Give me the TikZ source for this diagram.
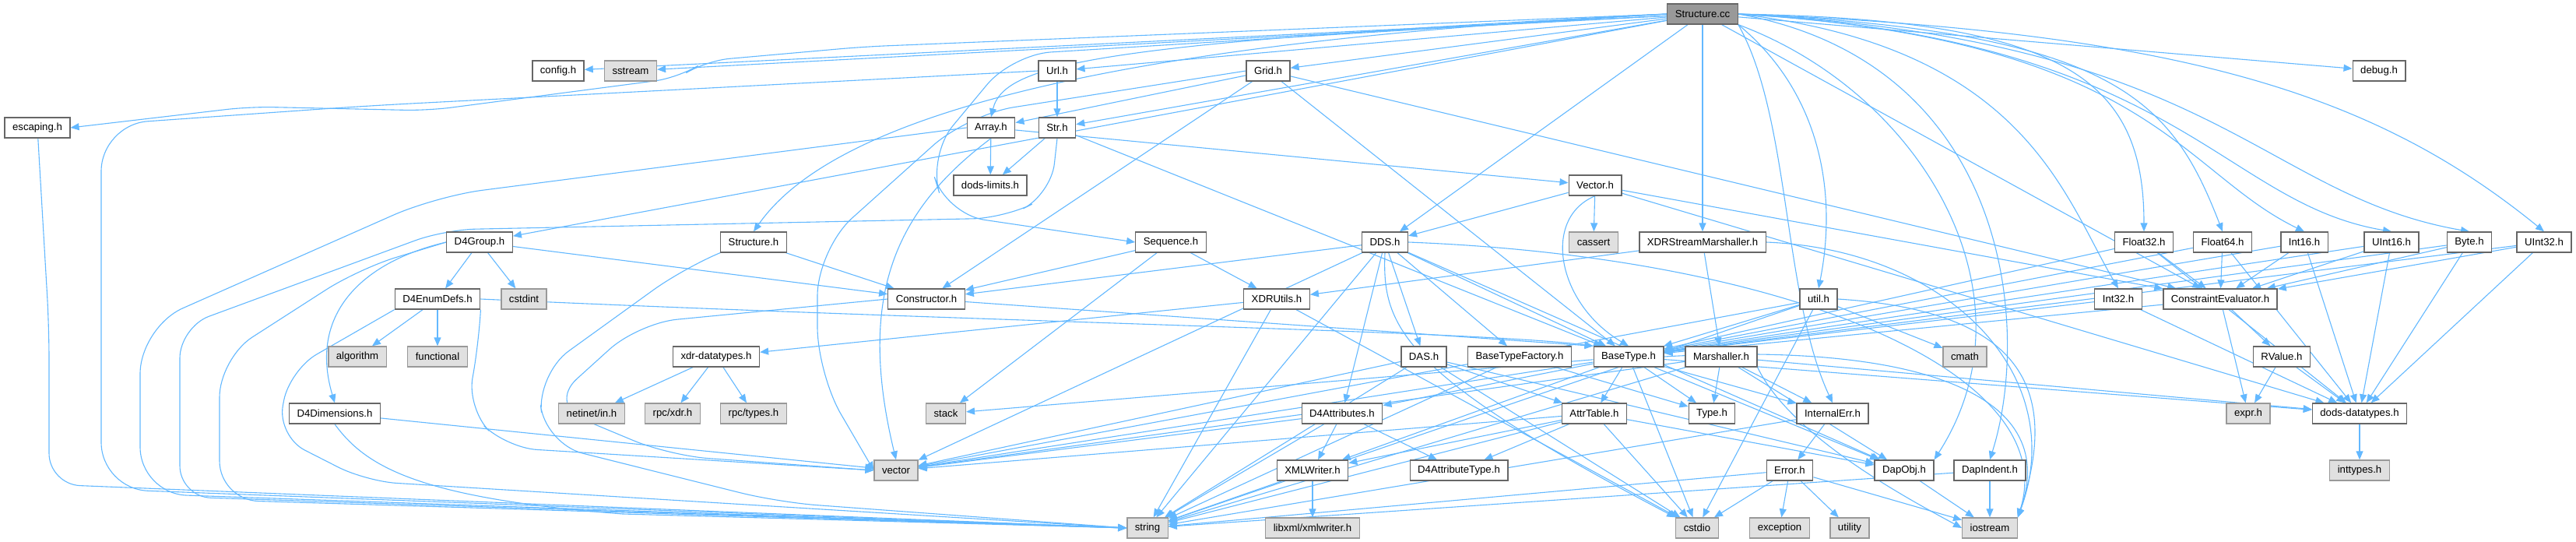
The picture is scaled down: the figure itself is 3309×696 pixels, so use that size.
\documentclass[tikz,border=0pt]{standalone}
\usepackage{fontspec}
\setmainfont{Liberation Sans}
\usetikzlibrary{arrows.meta,backgrounds}

\definecolor{incblue}{HTML}{63B8FF}
\definecolor{boxgray}{HTML}{666666}
\definecolor{sysgray}{HTML}{999999}
\definecolor{sysfill}{HTML}{E0E0E0}

\tikzset{
	hfile/.style={draw=boxgray, fill=white, line width=1.3pt, minimum height=26pt,
		inner xsep=10pt, inner ysep=0pt, font=\fontsize{13.2}{15}\selectfont},
	sysfile/.style={hfile, draw=sysgray, fill=sysfill},
	rootfile/.style={hfile, fill=sysgray},
	inc/.style={draw=incblue, line width=1.1pt, -{Triangle[length=11pt,width=9pt]}},
}

\begin{document}
\begin{tikzpicture}[x=1pt,y=-1pt]
	\useasboundingbox (0,0) rectangle (3309,696);

	% the file itself
	\node[rootfile] (sc) at (2187,18) {Structure.cc};

	% first level
	\node[hfile] (config) at (717,91) {config.h};
	\node[sysfile] (sstream) at (810,91) {sstream};
	\node[hfile] (url) at (1358,91) {Url.h};
	\node[hfile] (grid) at (1629,91) {Grid.h};
	\node[hfile] (debug) at (3056,91) {debug.h};

	\node[hfile] (escaping) at (48,164) {escaping.h};
	\node[hfile] (array) at (1273,164) {Array.h};
	\node[hfile] (str) at (1358,164) {Str.h};

	\node[hfile] (limits) at (1272,238) {dods-limits.h};
	\node[hfile] (vech) at (2049,238) {Vector.h};

	% middle rows
	\node[hfile] (d4group) at (616,311) {D4Group.h};
	\node[hfile] (structh) at (968,311) {Structure.h};
	\node[hfile] (sequence) at (1504,311) {Sequence.h};
	\node[hfile] (dds) at (1779,311) {DDS.h};
	\node[sysfile] (cassert) at (2047,311) {cassert};
	\node[hfile] (xdrsm) at (2187,311) {XDRStreamMarshaller.h};
	\node[hfile] (float32) at (2754,311) {Float32.h};
	\node[hfile] (float64) at (2855,311) {Float64.h};
	\node[hfile] (int16) at (2960,311) {Int16.h};
	\node[hfile] (uint16) at (3072,311) {UInt16.h};
	\node[hfile] (byte) at (3172,311) {Byte.h};
	\node[hfile] (uint32) at (3268,311) {UInt32.h};

	\node[hfile] (enumdefs) at (562,384) {D4EnumDefs.h};
	\node[sysfile] (cstdint) at (673,384) {cstdint};
	\node[hfile] (constructor) at (1190,384) {Constructor.h};
	\node[hfile] (xdrutils) at (1640,384) {XDRUtils.h};
	\node[hfile] (util) at (2336,384) {util.h};
	\node[hfile] (int32) at (2721,384) {Int32.h};
	\node[hfile] (ce) at (2852,384) {ConstraintEvaluator.h};

	\node[sysfile] (algorithm) at (459,458) {algorithm};
	\node[sysfile] (functional) at (562,458) {functional};
	\node[hfile] (xdrdt) at (920,458) {xdr-datatypes.h};
	\node[hfile] (das) at (1829,458) {DAS.h};
	\node[hfile] (btf) at (1952,458) {BaseTypeFactory.h};
	\node[hfile] (basetype) at (2092,458) {BaseType.h};
	\node[hfile] (marshaller) at (2211,458) {Marshaller.h};
	\node[sysfile] (cmath) at (2524,458) {cmath};
	\node[hfile] (rvalue) at (2931,458) {RValue.h};

	\node[hfile] (d4dims) at (430,531) {D4Dimensions.h};
	\node[sysfile] (netinet) at (760,531) {netinet/in.h};
	\node[sysfile] (rpcxdr) at (864,531) {rpc/xdr.h};
	\node[sysfile] (rpctypes) at (968,531) {rpc/types.h};
	\node[sysfile] (stack) at (1215,531) {stack};
	\node[hfile] (d4attrs) at (1724,531) {D4Attributes.h};
	\node[hfile] (attrtable) at (2048,531) {AttrTable.h};
	\node[hfile] (type) at (2199,531) {Type.h};
	\node[hfile] (internalerr) at (2354,531) {InternalErr.h};
	\node[sysfile] (expr) at (2888,531) {expr.h};
	\node[hfile] (dodsdt) at (3031,531) {dods-datatypes.h};

	% bottom rows
	\node[sysfile] (vector) at (1151,604) {vector};
	\node[hfile] (xmlwriter) at (1686,604) {XMLWriter.h};
	\node[hfile] (d4attrtype) at (1874,604) {D4AttributeType.h};
	\node[hfile] (error) at (2299,604) {Error.h};
	\node[hfile] (dapobj) at (2446,604) {DapObj.h};
	\node[hfile] (dapindent) at (2556,604) {DapIndent.h};
	\node[sysfile] (inttypes) at (3031,604) {inttypes.h};

	\node[sysfile] (string) at (1474,678) {string};
	\node[sysfile] (libxml) at (1686,678) {libxml/xmlwriter.h};
	\node[sysfile] (cstdio) at (2180,678) {cstdio};
	\node[sysfile] (exception) at (2286,678) {exception};
	\node[sysfile] (utility) at (2376,678) {utility};
	\node[sysfile] (iostream) at (2556,678) {iostream};

	\begin{scope}[on background layer]
	% plain includes
	\foreach \a/\b in {sc/config, sc/sstream, sc/url, sc/str, sc/grid, sc/debug, sc/d4group,
		sc/dds, sc/xdrsm, sc/ce, url/str, str/limits, str/basetype, array/limits, array/vech,
		grid/array, grid/constructor, grid/basetype, grid/ce, vech/dds, vech/cassert, vech/ce,
		vech/dodsdt, d4group/enumdefs, d4group/cstdint, d4group/constructor,
		enumdefs/algorithm, enumdefs/functional, d4dims/vector, structh/constructor,
		sequence/constructor, sequence/xdrutils, sequence/stack, dds/constructor, dds/das,
		dds/btf, dds/basetype, dds/d4attrs, dds/dapobj, dds/string, dds/vector,
		xdrsm/marshaller, xdrsm/xdrutils, xdrutils/xdrdt, xdrutils/cstdio, xdrutils/string,
		xdrdt/netinet, xdrdt/rpcxdr, xdrdt/rpctypes}
		\draw[inc] (\a) -- (\b);
	\foreach \a/\b in {util/basetype, util/cmath, util/vector, util/string, util/cstdio,
		int32/basetype, int32/dodsdt, ce/expr, ce/rvalue, ce/basetype, rvalue/expr,
		rvalue/dodsdt, dodsdt/inttypes, das/attrtable, das/dapobj, das/string, das/vector,
		das/cstdio, btf/string, btf/type, basetype/vector, basetype/stack, basetype/attrtable,
		basetype/internalerr, basetype/dodsdt, basetype/dapobj, basetype/xmlwriter,
		basetype/type, basetype/d4attrs, basetype/cstdio, marshaller/type,
		marshaller/internalerr, marshaller/dapobj, marshaller/dodsdt, marshaller/string,
		marshaller/vector, attrtable/vector, attrtable/string, attrtable/dapobj,
		attrtable/xmlwriter, attrtable/d4attrtype, attrtable/cstdio, d4attrs/vector,
		d4attrs/string, d4attrs/xmlwriter, d4attrs/d4attrtype, xmlwriter/libxml,
		xmlwriter/string, internalerr/error, internalerr/string, error/string, error/cstdio,
		error/exception, error/utility, error/iostream, dapobj/iostream, dapindent/string,
		dapindent/iostream}
		\draw[inc] (\a) -- (\b);
	% the numeric types
	\foreach \t in {float32, float64, int16, uint16, byte, uint32}{
		\draw[inc] (\t) -- (basetype);
		\draw[inc] (\t) -- (ce);
		\draw[inc] (\t) -- (dodsdt);
	}
	\draw[inc] (constructor) -- (basetype.north west);
	\draw[inc] (enumdefs.east) .. controls (1300,415) and (1900,425) .. (basetype.north west);
	\draw[inc] (vech.south) .. controls (1980,280) and (2000,390) .. (basetype.north);

	% long ones from Structure.cc
	\draw[inc, rounded corners=30pt] (sc.west) -- (1110,60) -- (907,78) -- (871,100)
		-- (550,142) -- (321,137) -- (escaping.east);
	\draw[inc] (sc.west) .. controls (1420,55) and (1290,80) .. (array.north);
	\draw[inc, rounded corners=50pt] (sc.west) -- (1300,70) -- (1192,200) -- (1215,275)
		-- (sequence.west);
	\draw[inc] (sc.west) .. controls (1300,60) and (1050,180) .. (structh.north);
	\draw[inc] (sc.south east) .. controls (2340,120) and (2360,250) .. (util.north);
	\draw[inc] (sc.south east) .. controls (2300,150) and (2290,380) .. (internalerr.north);
	\draw[inc] (sc.south east) .. controls (2470,120) and (2620,380) .. (dapobj.north east);
	\draw[inc] (sc.east) .. controls (2580,80) and (2610,420) .. (dapindent.north);
	\draw[inc] (sc.east) .. controls (2600,60) and (2650,250) .. (int32.north);
	\draw[inc] (sc.east) .. controls (2650,25) and (2754,100) .. (float32.north);
	\draw[inc] (sc.east) .. controls (2720,40) and (2790,130) .. (float64.north);
	\draw[inc] (sc.east) .. controls (2760,50) and (2800,220) .. (int16.north);
	\draw[inc] (sc.east) .. controls (2800,50) and (2850,260) .. (uint16.north);
	\draw[inc] (sc.east) .. controls (2850,50) and (2900,250) .. (byte.north);
	\draw[inc] (sc.east) .. controls (2800,40) and (3050,120) .. (uint32.north);

	% round the left side into string
	\draw[inc, rounded corners=40pt] (escaping) -- (63,420) -- (63,622) -- (string.west);
	\draw[inc, rounded corners=60pt] (url.west) -- (470,136) -- (130,160) -- (130,628)
		-- (string.west);
	\draw[inc, rounded corners=60pt] (array.west) -- (560,252) -- (180,420) -- (180,634)
		-- (string.west);
	\draw[inc, rounded corners=40pt] (str.south) -- (1350,250) -- (1290,280) -- (571,295)
		-- (231,420) -- (231,638) -- (string.west);
	\draw[inc, rounded corners=50pt] (d4group.west) -- (461,345) -- (282,460) -- (282,642)
		-- (string.west);
	\draw[inc] (d4group.west) .. controls (470,335) and (395,400) .. (d4dims.north);
	\draw[inc, rounded corners=40pt] (enumdefs.south west) -- (372,475) -- (356,560)
		-- (470,618) -- (string.west);
	\draw[inc] (d4dims.south) .. controls (470,600) and (540,640) .. (800,660) -- (string.west);
	\draw[inc, rounded corners=50pt] (structh.south west) -- (880,343) -- (690,480)
		-- (700,570) -- (1000,645) -- (string.west);

	% round the left side into vector
	\draw[inc, rounded corners=50pt] (constructor.west) -- (820,415) -- (704,520)
		-- (860,585) -- (vector.west);
	\draw[inc, rounded corners=40pt] (enumdefs.south east) -- (615,440) -- (600,525)
		-- (650,575) -- (vector.west);
	\draw[inc, rounded corners=60pt] (grid.west) -- (1243,147) -- (1050,320) -- (1050,480)
		-- (vector.west);
	\draw[inc] (array.south) .. controls (1150,270) and (1100,380) .. (vector.north);

	% down to cstdio and iostream
	\draw[inc] (dds.south) .. controls (1775,420) and (1800,480) .. (cstdio.north west);
	\draw[inc] (dds.east) .. controls (2300,330) and (2650,480) .. (iostream.north east);
	\draw[inc] (basetype.east) .. controls (2450,440) and (2650,500) .. (iostream.north east);
	\draw[inc] (util.east) .. controls (2620,400) and (2640,520) .. (iostream.north east);
	\draw[inc] (xdrsm.east) .. controls (2500,320) and (2660,480) .. (iostream.north east);
	\draw[inc] (marshaller.south east) .. controls (2300,560) and (2450,640) .. (iostream.west);
	\end{scope}

\end{tikzpicture}
\end{document}
